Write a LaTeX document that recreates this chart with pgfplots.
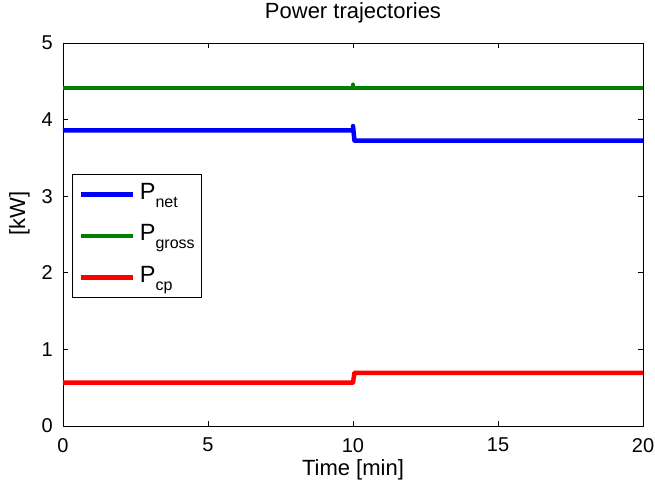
\documentclass[border=0pt]{standalone}
\usepackage{pgfplots}
\pgfplotsset{compat=1.18}
\usepackage{fontspec}
\setmainfont{Liberation Sans}

\definecolor{mblue}{rgb}{0,0,1}
\definecolor{mgreen}{rgb}{0,0.5,0}
\definecolor{mred}{rgb}{1,0,0}

\newcommand{\leg}[2]{{\fontsize{23.5}{26}\selectfont #1}\raisebox{-8pt}{\fontsize{16}{18}\selectfont #2}}

\begin{document}
\begin{tikzpicture}
\begin{axis}[
    scale only axis,
    width=580pt, height=383pt,
    xmin=0, xmax=20, ymin=0, ymax=5,
    xtick={0,5,10,15,20}, ytick={0,1,2,3,4,5},
    tick align=inside,
    major tick length=5pt,
    axis line style={black, line width=0.8pt},
    every tick/.style={black, line width=0.8pt},
    /pgf/number format/assume math mode=true,
    tick label style={font=\fontsize{20}{24}\selectfont},
    yticklabel style={anchor=east, inner sep=0pt, xshift=-10pt},
    xticklabel style={anchor=north, inner sep=0pt, yshift=-12pt},
    title={Power trajectories},
    title style={font=\fontsize{22}{26}\selectfont, at={(axis description cs:0.5,1.047)}, anchor=base},
    xlabel={Time [min]},
    xlabel style={font=\fontsize{22}{26}\selectfont, at={(axis description cs:0.5,-0.128)}, anchor=base},
    ylabel={[kW]},
    ylabel style={font=\fontsize{22}{26}\selectfont, at={(axis description cs:-0.0655,0.555)}, anchor=base},
    legend style={at={(axis description cs:0.0155,0.658)}, anchor=north west,
        draw=black, line width=0.8pt, inner xsep=6pt, inner ysep=4pt,
        row sep=9.5pt,
        nodes={text height=20pt, text depth=10pt, inner sep=1pt}},
    legend cell align=left,
    legend image code/.code={\draw[#1, line width=4.5pt] (0pt,0pt) -- (52pt,0pt); \path (56pt,0pt);},
    every axis plot/.append style={line width=4.5pt, line join=round},
]
\addplot[mblue] coordinates {(0,3.86) (10,3.86) (10,3.915) (10.05,3.725) (20,3.725)};
\addplot[mgreen] coordinates {(0,4.41) (10,4.41) (10,4.455) (10,4.41) (20,4.41)};
\addplot[mred] coordinates {(0,0.565) (10,0.565) (10.05,0.695) (20,0.695)};
\legend{\leg{P}{net}, \leg{P}{gross}, \leg{P}{cp}}
\end{axis}
\pgfresetboundingbox
\path ([shift={(-63pt,-58pt)}]current axis.south west) rectangle ([shift={(12pt,43pt)}]current axis.north east);
\end{tikzpicture}
\end{document}
